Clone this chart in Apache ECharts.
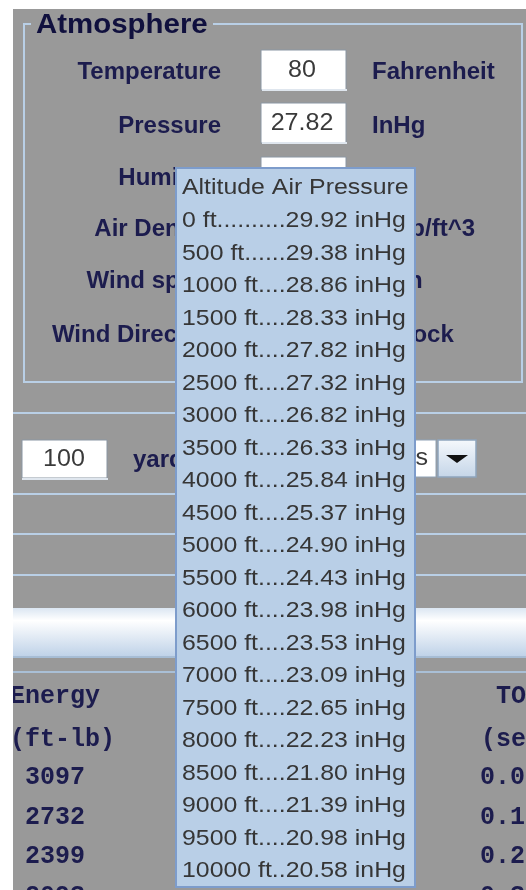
<!DOCTYPE html>
<html><head><meta charset="utf-8">
<script src="https://cdn.jsdelivr.net/npm/echarts@6/dist/echarts.min.js"></script>
<style>html,body{margin:0;padding:0;background:#fff}#c{width:526px;height:890px}</style>
</head><body><div id="c"></div>
<script>
// ---- data ----
const altitudes = [0, 500, 1000, 1500, 2000, 2500, 3000, 3500, 4000, 4500, 5000, 5500, 6000, 6500, 7000, 7500, 8000, 8500, 9000, 9500, 10000];
const pressures = [29.92, 29.38, 28.86, 28.33, 27.82, 27.32, 26.82, 26.33, 25.84, 25.37, 24.90, 24.43, 23.98, 23.53, 23.09, 22.65, 22.23, 21.80, 21.39, 20.98, 20.58];
const popupTitle = 'Altitude Air Pressure';
const groupTitle = 'Atmosphere';
const atmLabels = ['Temperature', 'Pressure', 'Humidity', 'Air Density', 'Wind speed', 'Wind Direction'];
const atmUnits = ['Fahrenheit', 'InHg', '', 'lb/ft^3', 'mph', "o'clock"];
const atmValues = ['80', '27.82', ''];
const rangeValue = '100';
const rangeUnit = 'yards';
const dropText = 'Inches';
const energyHeader = ['Energy', '(ft-lb)'];
const tofHeader = [' TOF', '(sec)'];
const energyValues = [3097, 2732, 2399, 2093];
const tofValues = ['0.000', '0.101', '0.208', '0.321'];

// ---- styles ----
const SANS = 'Arial, "Liberation Sans", sans-serif';
const MONO = '"Courier New", "Liberation Mono", monospace';
const NAVY = '#1c1c4e';
const GRAY = '#999999';
const LINE = '#b9cfe6';

function fmtRow(a, p) {
  const s = String(a);
  const dots = '.'.repeat(Math.max(0, 12 - 2 * s.length));
  return s + ' ft' + dots + p.toFixed(2) + ' inHg';
}

const g = [];
// background
g.push({type: 'rect', z: 0, shape: {x: 13, y: 9, width: 513, height: 881}, style: {fill: GRAY}});
// atmosphere group box
g.push({type: 'rect', z: 0, shape: {x: 24, y: 24, width: 498, height: 358}, style: {fill: 'none', stroke: LINE, lineWidth: 2}});
g.push({type: 'rect', z: 0, shape: {x: 31, y: 12, width: 182, height: 22}, style: {fill: GRAY}});
g.push({type: 'text', z: 1, x: 36, y: 26, scaleX: 1.09, style: {text: groupTitle, x: 0, y: 0, fontSize: 27, fontWeight: 'bold', fontFamily: SANS, fill: '#10103e', align: 'left', textAlign: 'left', verticalAlign: 'middle', textVerticalAlign: 'middle'}});

const rowY = [72, 126, 178, 229, 281, 335];
const boxTop = [50, 103, 157];
boxTop.forEach((t, i) => {
  g.push({type: 'rect', z: 0, shape: {x: 261, y: t, width: 85, height: 40}, style: {fill: '#ffffff', stroke: '#8a96a3', lineWidth: 1}});
  g.push({type: 'line', z: 0, shape: {x1: 262, y1: t + 40, x2: 347, y2: t + 40}, style: {stroke: '#dfe6ee', lineWidth: 2}});
  if (atmValues[i]) {
    g.push({type: 'text', z: 1, x: 302, y: t + 21, scaleX: 1.09, style: {text: atmValues[i], x: 0, y: 0, fontSize: 23, fontFamily: SANS, fill: '#3a3a3a', align: 'center', textAlign: 'center', verticalAlign: 'middle', textVerticalAlign: 'middle'}});
  }
});
atmLabels.forEach((lab, i) => {
  g.push({type: 'text', z: 1, style: {text: lab, x: 221, y: rowY[i], fontSize: 24, fontWeight: 'bold', fontFamily: SANS, fill: NAVY, align: 'right', textAlign: 'right', verticalAlign: 'middle', textVerticalAlign: 'middle'}});
  const u = atmUnits[i];
  if (u) {
    const right = (i === 3);
    g.push({type: 'text', z: 1, style: {text: u, x: right ? 475 : 372, y: rowY[i], fontSize: 24, fontWeight: 'bold', fontFamily: SANS, fill: NAVY, align: right ? 'right' : 'left', textAlign: right ? 'right' : 'left', verticalAlign: 'middle', textVerticalAlign: 'middle'}});
  }
});

// separator lines
[413, 494, 534, 575].forEach(y => {
  g.push({type: 'line', z: 0, shape: {x1: 13, y1: y, x2: 526, y2: y}, style: {stroke: LINE, lineWidth: 2}});
});
g.push({type: 'line', z: 0, shape: {x1: 13, y1: 672, x2: 526, y2: 672}, style: {stroke: '#a9bfd6', lineWidth: 2}});

// range input
g.push({type: 'rect', z: 0, shape: {x: 22, y: 440, width: 85, height: 38}, style: {fill: '#ffffff', stroke: '#8a96a3', lineWidth: 1}});
g.push({type: 'line', z: 0, shape: {x1: 22, y1: 479, x2: 108, y2: 479}, style: {stroke: '#dfe6ee', lineWidth: 2}});
g.push({type: 'text', z: 1, x: 64, y: 460, scaleX: 1.09, style: {text: rangeValue, x: 0, y: 0, fontSize: 23, fontFamily: SANS, fill: '#3a3a3a', align: 'center', textAlign: 'center', verticalAlign: 'middle', textVerticalAlign: 'middle'}});
g.push({type: 'text', z: 1, style: {text: rangeUnit, x: 133, y: 460, fontSize: 24, fontWeight: 'bold', fontFamily: SANS, fill: NAVY, align: 'left', textAlign: 'left', verticalAlign: 'middle', textVerticalAlign: 'middle'}});
// dropdown
g.push({type: 'rect', z: 0, shape: {x: 350, y: 440, width: 86, height: 37}, style: {fill: '#ffffff', stroke: '#8fa2b6', lineWidth: 1}});
g.push({type: 'text', z: 1, x: 428, y: 459, scaleX: 1.09, style: {text: dropText, x: 0, y: 0, fontSize: 23, fontFamily: SANS, fill: '#3a3a3a', align: 'right', textAlign: 'right', verticalAlign: 'middle', textVerticalAlign: 'middle'}});
g.push({type: 'rect', z: 0, shape: {x: 438, y: 440, width: 38, height: 37}, style: {fill: {type: 'linear', x: 0, y: 0, x2: 0, y2: 1, colorStops: [{offset: 0, color: '#f6f9fc'}, {offset: 1, color: '#c4d5e8'}]}, stroke: '#8ea5bd', lineWidth: 1.5}});
g.push({type: 'polygon', z: 1, shape: {points: [[446, 455], [468, 455], [457, 463]]}, style: {fill: '#111111'}});

// gradient header bar
g.push({type: 'rect', z: 0, shape: {x: 13, y: 608, width: 513, height: 50}, style: {fill: {type: 'linear', x: 0, y: 0, x2: 0, y2: 1, colorStops: [{offset: 0, color: '#dbe6f2'}, {offset: 0.25, color: '#ffffff'}, {offset: 1, color: '#bcd0e7'}]}}});
g.push({type: 'line', z: 0, shape: {x1: 13, y1: 657, x2: 526, y2: 657}, style: {stroke: '#9fb6cf', lineWidth: 1.5}});

// table headers
energyHeader.forEach((t, i) => {
  g.push({type: 'text', z: 1, style: {text: t, x: 10, y: [697, 740][i], fontSize: 25, fontWeight: 'bold', fontFamily: MONO, fill: NAVY, align: 'left', textAlign: 'left', verticalAlign: 'middle', textVerticalAlign: 'middle'}});
});
tofHeader.forEach((t, i) => {
  g.push({type: 'text', z: 1, style: {text: t, x: 481, y: [697, 740][i], fontSize: 25, fontWeight: 'bold', fontFamily: MONO, fill: NAVY, align: 'left', textAlign: 'left', verticalAlign: 'middle', textVerticalAlign: 'middle'}});
});

// left white strip and top strip (cover clipped table text)
g.push({type: 'rect', z: 3, shape: {x: 0, y: 0, width: 13, height: 890}, style: {fill: '#ffffff'}});
g.push({type: 'rect', z: 3, shape: {x: 0, y: 0, width: 526, height: 9}, style: {fill: '#ffffff'}});

// popup
g.push({type: 'rect', z: 5, shape: {x: 176, y: 168, width: 239, height: 719}, style: {fill: '#b9cfe7', stroke: '#7d9ccb', lineWidth: 2}});
g.push({type: 'text', z: 6, x: 182, y: 187.5, scaleX: 1.13, style: {text: popupTitle, x: 0, y: 0, fontSize: 22, fontFamily: SANS, fill: '#363636', align: 'left', textAlign: 'left', verticalAlign: 'middle', textVerticalAlign: 'middle'}});

const option = {
  animation: false,
  backgroundColor: '#ffffff',
  graphic: {elements: g},
  grid: [
    {left: 182, top: 203.75, width: 228, height: 682.5, outerBoundsMode: 'none'},
    {left: 10, top: 758, width: 516, height: 158.4, outerBoundsMode: 'none'}
  ],
  xAxis: [
    {gridIndex: 0, type: 'value', min: 0, max: 1, show: false},
    {gridIndex: 1, type: 'value', min: 0, max: 1, show: false}
  ],
  yAxis: [
    {gridIndex: 0, type: 'category', inverse: true, data: altitudes.map(String), show: false},
    {gridIndex: 1, type: 'category', inverse: true, data: energyValues.map((v, i) => 'r' + i), show: false}
  ],
  series: [
    {
      type: 'custom', xAxisIndex: 0, yAxisIndex: 0, z: 10, silent: true,
      data: altitudes.map((a, i) => [0, i, a, pressures[i]]),
      renderItem: function (params, api) {
        const p = api.coord([0, api.value(1)]);
        return {type: 'text', x: p[0], y: p[1] + 1, scaleX: 1.13,
          style: {text: fmtRow(api.value(2), api.value(3)), x: 0, y: 0, fontSize: 22, fontFamily: SANS, fill: '#363636', align: 'left', textAlign: 'left', verticalAlign: 'middle', textVerticalAlign: 'middle'}};
      }
    },
    {
      type: 'custom', xAxisIndex: 1, yAxisIndex: 1, z: 2, silent: true, clip: false,
      data: energyValues.map((v, i) => [0, i, v, tofValues[i]]),
      renderItem: function (params, api) {
        const p = api.coord([0, api.value(1)]);
        const idx = params.dataIndex;
        const base = {fontSize: 25, fontWeight: 'bold', fontFamily: MONO, fill: NAVY, align: 'left', textAlign: 'left', verticalAlign: 'middle', textVerticalAlign: 'middle'};
        return {type: 'group', children: [
          {type: 'text', style: Object.assign({text: ' ' + energyValues[idx], x: p[0], y: p[1]}, base)},
          {type: 'text', style: Object.assign({text: tofValues[idx], x: p[0] + 470, y: p[1]}, base)}
        ]};
      }
    }
  ]
};
const chart = echarts.init(document.getElementById('c'), null, {renderer: 'canvas'});
chart.setOption(option);
</script></body></html>
